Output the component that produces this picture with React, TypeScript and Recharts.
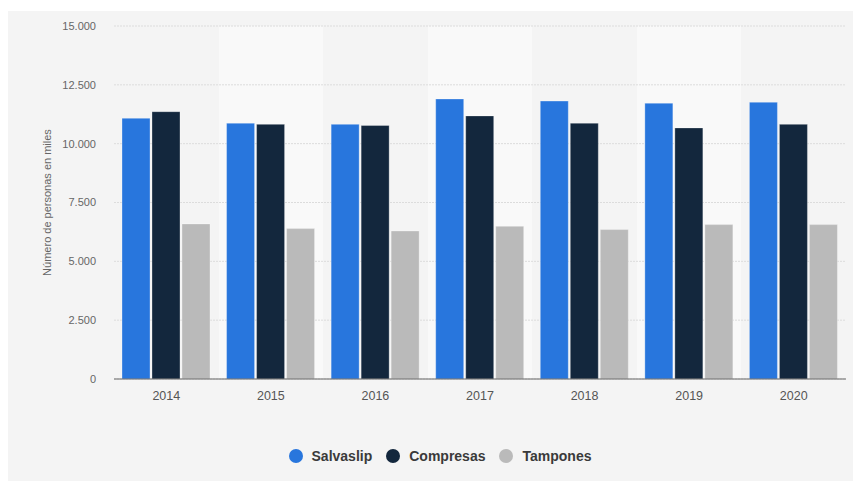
import { BarChart, Bar, XAxis, YAxis, CartesianGrid, Legend } from 'recharts';

const years = ['2014', '2015', '2016', '2017', '2018', '2019', '2020'];
const salvaslip = [11080, 10870, 10820, 11900, 11810, 11720, 11760];
const compresas = [11360, 10820, 10770, 11180, 10870, 10670, 10820];
const tampones = [6590, 6390, 6290, 6490, 6350, 6560, 6560];
const yTicks = [0, 2500, 5000, 7500, 10000, 12500, 15000];

const series = [
  { key: 'Salvaslip', values: salvaslip, color: '#2876dd' },
  { key: 'Compresas', values: compresas, color: '#13273d' },
  { key: 'Tampones', values: tampones, color: '#bababa' },
];

const data = years.map((year, i) => {
  const row: { [key: string]: string | number } = { year };
  series.forEach((s) => {
    row[s.key] = s.values[i];
  });
  return row;
});

const fmt = (v: number) => String(v).replace(/\B(?=(\d{3})+(?!\d))/g, '.');

const font = 'Arial, "Liberation Sans", Helvetica, sans-serif';

function LegendRow() {
  return (
    <div
      style={{
        height: 72,
        paddingTop: 40,
        boxSizing: 'border-box',
        display: 'flex',
        justifyContent: 'center',
        alignItems: 'flex-start',
        paddingLeft: 40,
        fontFamily: font,
      }}
    >
      {series.map((s) => (
        <div key={s.key} style={{ display: 'flex', alignItems: 'center', marginRight: 14, height: 14 }}>
          <span
            style={{
              width: 14,
              height: 14,
              borderRadius: '50%',
              background: s.color,
              display: 'inline-block',
              marginRight: 9,
            }}
          />
          <span style={{ fontSize: 14, fontWeight: 700, color: '#3a3a3a', lineHeight: '14px' }}>{s.key}</span>
        </div>
      ))}
    </div>
  );
}

export default function App() {
  return (
    <div style={{ paddingTop: 3 }}>
      <div style={{ width: 845, height: 470, background: '#f4f4f4' }}>
        <BarChart
          width={845}
          height={470}
          data={data}
          margin={{ top: 15, right: 7, left: 0, bottom: 0 }}
          barCategoryGap={8}
          barGap={2}
        >
          <CartesianGrid
            horizontal={false}
            stroke="none"
            verticalFill={['transparent', '#f9f9f9']}
            verticalCoordinatesGenerator={({ offset }: any) =>
              years.map((_, i) => offset.left + (i * offset.width) / years.length)
            }
          />
          <CartesianGrid vertical={false} stroke="#dcdcdc" strokeDasharray="2 1" />
          <XAxis
            dataKey="year"
            height={30}
            tickLine={false}
            tickSize={6}
            tickMargin={6}
            stroke="#666"
            tick={{ fill: '#555', fontSize: 12.5, fontFamily: font }}
          />
          <YAxis
            width={106}
            domain={[0, 15000]}
            ticks={yTicks}
            tickFormatter={fmt}
            axisLine={false}
            tickLine={false}
            tickSize={6}
            tickMargin={12}
            tick={{ fill: '#666', fontSize: 11, fontFamily: font }}
            label={{
              value: 'Número de personas en miles',
              angle: -90,
              position: 'insideLeft',
              dx: 34,
              style: { textAnchor: 'middle', fill: '#666', fontSize: 11, fontFamily: font },
            }}
          />
          <Legend verticalAlign="bottom" content={<LegendRow />} />
          {series.map((s) => (
            <Bar
              key={s.key}
              dataKey={s.key}
              fill={s.color}
              stroke="rgba(255,255,255,0.3)"
              strokeWidth={1}
              isAnimationActive={false}
            />
          ))}
        </BarChart>
      </div>
    </div>
  );
}
